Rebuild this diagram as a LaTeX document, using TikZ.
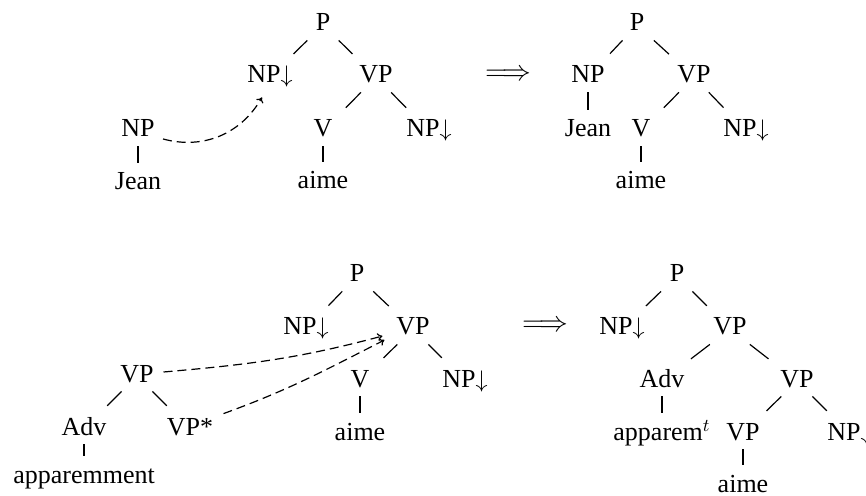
\documentclass[tikz,border=0pt]{standalone}
\usepackage{fontspec}
\setmainfont{Liberation Serif}
\usetikzlibrary{arrows.meta}
\begin{document}
\begin{tikzpicture}[x=0.5pt,y=-0.5pt,
  lab/.style={anchor=base,inner sep=2pt,text height=8.5pt,text depth=2.5pt,minimum width=17pt,font=\fontsize{13}{15.6}\selectfont},
  imp/.style={anchor=base,inner sep=1pt,font=\fontsize{15}{18}\selectfont},
  br/.style={line width=0.6pt,shorten >=5.5pt},
  vbr/.style={line width=0.6pt,shorten >=3pt},
  mv/.style={line width=0.6pt,dash pattern=on 4.5pt off 2.5pt,-{To[length=2.5pt,width=4pt]}}]
\useasboundingbox (0,0) rectangle (866,496);
% top-left auxiliary tree
\node[lab] (Anp) at (138,137) {NP};
\node[lab] (Ajean) at (138,190) {Jean};
% top-left initial tree
\node[lab] (Bp) at (323,31) {P};
\node[lab] (Bnp) at (270,83) {NP$\downarrow$};
\node[lab] (Bvp) at (376,83) {VP};
\node[lab] (Bv) at (323,137) {V};
\node[lab] (Bnpb) at (429,137) {NP$\downarrow$};
\node[lab] (Baime) at (323,189) {aime};
% arrow
\node[imp] (Arr1) at (508,81) {$\Longrightarrow$};
% top-right result
\node[lab] (Cp) at (637,31) {P};
\node[lab] (Cnp) at (588,83) {NP};
\node[lab] (Cvp) at (694,83) {VP};
\node[lab] (Cjean) at (588,137) {Jean};
\node[lab] (Cv) at (641,137) {V};
\node[lab] (Cnpb) at (746,137) {NP$\downarrow$};
\node[lab] (Caime) at (641,189) {aime};
% bottom-left auxiliary tree
\node[lab] (Dvp) at (137,382) {VP};
\node[lab] (Dadv) at (84,435) {Adv};
\node[lab] (Dvps) at (190,435) {VP*};
\node[lab] (Dapp) at (84,483) {apparemment};
% bottom-middle initial tree
\node[lab] (Ep) at (357,282) {P};
\node[lab] (Enp) at (306,335) {NP$\downarrow$};
\node[lab] (Evp) at (413,335) {VP};
\node[lab] (Ev) at (360,387) {V};
\node[lab] (Enpb) at (465,387) {NP$\downarrow$};
\node[lab] (Eaime) at (360,440) {aime};
% arrow
\node[imp] (Arr2) at (545,331) {$\Longrightarrow$};
% bottom-right result
\node[lab] (Fp) at (677,282) {P};
\node[lab] (Fnp) at (622,335) {NP$\downarrow$};
\node[lab] (Fvp) at (730,335) {VP};
\node[lab] (Fadv) at (662,387) {Adv};
\node[lab] (Fvpb) at (797,387) {VP};
\node[lab] (Fapp) at (662,440) {apparem$^t$};
\node[lab] (Fvpc) at (743,440) {VP};
\node[lab] (Fnpb) at (850,440) {NP$\downarrow$};
\node[lab] (Faime) at (743,492) {aime};
% branches
\draw[vbr] (Anp) -- (Ajean);
\draw[br] (Bp) -- (Bnp);
\draw[br] (Bp) -- (Bvp);
\draw[br] (Bvp) -- (Bv);
\draw[br] (Bvp) -- (Bnpb);
\draw[vbr] (Bv) -- (Baime);
\draw[br] (Cp) -- (Cnp);
\draw[br] (Cp) -- (Cvp);
\draw[vbr] (Cnp) -- (Cjean);
\draw[br] (Cvp) -- (Cv);
\draw[br] (Cvp) -- (Cnpb);
\draw[vbr] (Cv) -- (Caime);
\draw[br] (Dvp) -- (Dadv);
\draw[br] (Dvp) -- (Dvps);
\draw[vbr] (Dadv) -- (Dapp);
\draw[br] (Ep) -- (Enp);
\draw[br] (Ep) -- (Evp);
\draw[br] (Evp) -- (Ev);
\draw[br] (Evp) -- (Enpb);
\draw[vbr] (Ev) -- (Eaime);
\draw[br] (Fp) -- (Fnp);
\draw[br] (Fp) -- (Fvp);
\draw[br] (Fvp) -- (Fadv);
\draw[br] (Fvp) -- (Fvpb);
\draw[vbr] (Fadv) -- (Fapp);
\draw[br] (Fvpb) -- (Fvpc);
\draw[br] (Fvpb) -- (Fnpb);
\draw[vbr] (Fvpc) -- (Faime);
% substitution / adjunction arrows
\draw[mv] ([xshift=2pt,yshift=-4pt]Anp.east) to[out=-15,in=-120] ([xshift=-4pt,yshift=-2.5pt]Bnp.south);
\draw[mv] ([xshift=2.75pt,yshift=2pt]Dvp.east) to[out=5,in=195] ([xshift=-4.75pt,yshift=-3.5pt]Evp.west);
\draw[mv] ([xshift=3pt]Dvps.north east) to[out=20,in=207] ([xshift=-3.75pt,yshift=-5.5pt]Evp.west);
\end{tikzpicture}
\end{document}
